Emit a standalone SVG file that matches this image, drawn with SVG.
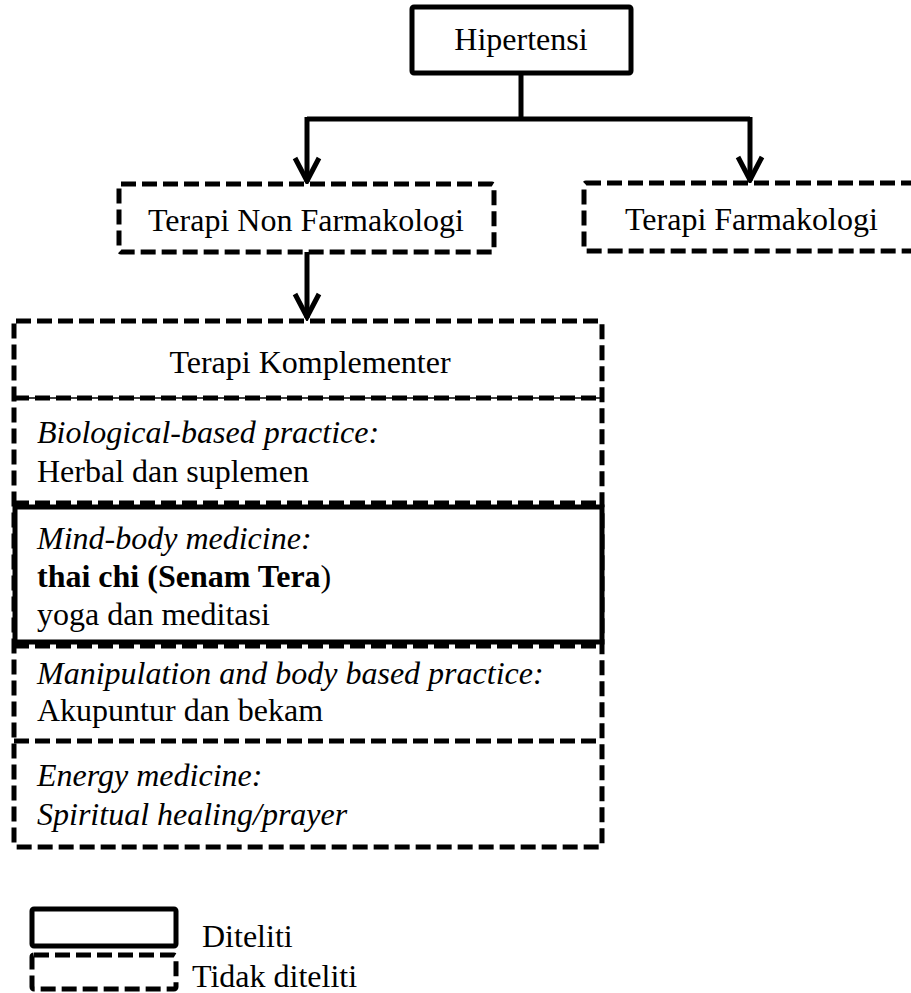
<svg xmlns="http://www.w3.org/2000/svg" width="911" height="993" viewBox="0 0 911 993">
<style>
text{font-family:"Liberation Serif","Times New Roman",serif;font-size:32px;fill:#000}
.it{font-style:italic}
.b{font-weight:bold}
.solid{fill:#fff;stroke:#000;stroke-width:5}
.dash{fill:#fff;stroke:#000;stroke-width:5;stroke-dasharray:15 6}
.dl{fill:none;stroke:#000;stroke-width:5;stroke-dasharray:15 6}
.conn{fill:none;stroke:#000;stroke-width:5}
</style>
<defs>
<marker id="arr" markerUnits="userSpaceOnUse" viewBox="0 0 30 30" refX="27" refY="15" markerWidth="30" markerHeight="30" orient="auto">
<path d="M3,3 L26,15 L3,27" fill="none" stroke="#000" stroke-width="5"/>
</marker>
</defs>
<g id="connectors">
<line class="conn" x1="521" y1="74" x2="521" y2="119"/>
<line class="conn" x1="307" y1="119" x2="750" y2="119"/>
<line class="conn" x1="307" y1="117" x2="307" y2="182" marker-end="url(#arr)"/>
<line class="conn" x1="750" y1="117" x2="750" y2="181" marker-end="url(#arr)"/>
<line class="conn" x1="307" y1="252" x2="307" y2="318" marker-end="url(#arr)"/>
</g>
<g id="hipertensi">
<rect class="solid" x="412" y="7" width="219" height="66" rx="2"/>
<text x="521" y="50" text-anchor="middle">Hipertensi</text>
</g>
<g id="non-farmakologi">
<rect class="dash" x="119" y="184" width="375" height="68" rx="2"/>
<text x="306" y="231" text-anchor="middle">Terapi Non Farmakologi</text>
</g>
<g id="farmakologi">
<rect class="dash" x="584" y="183" width="334" height="68" rx="2"/>
<text x="625" y="230">Terapi Farmakologi</text>
</g>
<g id="komplementer">
<rect class="dash" x="14" y="321" width="588" height="526" rx="2"/>
<text x="310" y="373" text-anchor="middle">Terapi Komplementer</text>
</g>
<g id="biological">
<line x1="14" y1="398" x2="602" y2="398" stroke="#000" stroke-width="1.5"/>
<line class="dl" x1="14" y1="398" x2="602" y2="398"/>
<text class="it" x="37" y="443">Biological-based practice:</text>
<text x="37" y="482">Herbal dan suplemen</text>
<line class="dl" x1="14" y1="503" x2="602" y2="503"/>
</g>
<g id="mind-body">
<line class="dl" x1="14" y1="646" x2="602" y2="646"/>
<rect class="solid" x="15" y="507" width="587" height="135" stroke-width="6"/>
<text class="it" x="37" y="549">Mind-body medicine:</text>
<text x="37" y="587"><tspan class="b">thai chi (Senam Tera</tspan>)</text>
<text x="37" y="625">yoga dan meditasi</text>
</g>
<g id="manipulation">
<text class="it" x="37" y="684">Manipulation and body based practice:</text>
<text x="37" y="721">Akupuntur dan bekam</text>
</g>
<g id="energy">
<line class="dl" x1="14" y1="741" x2="602" y2="741"/>
<text class="it" x="37" y="786">Energy medicine:</text>
<text class="it" x="37" y="825">Spiritual healing/prayer</text>
</g>
<g id="legend-diteliti">
<rect class="solid" x="32" y="909" width="144" height="37" rx="2"/>
<text x="202" y="947">Diteliti</text>
</g>
<g id="legend-tidak">
<rect class="dash" x="32" y="955" width="144" height="34" rx="2"/>
<text x="192" y="987">Tidak diteliti</text>
</g>
</svg>
